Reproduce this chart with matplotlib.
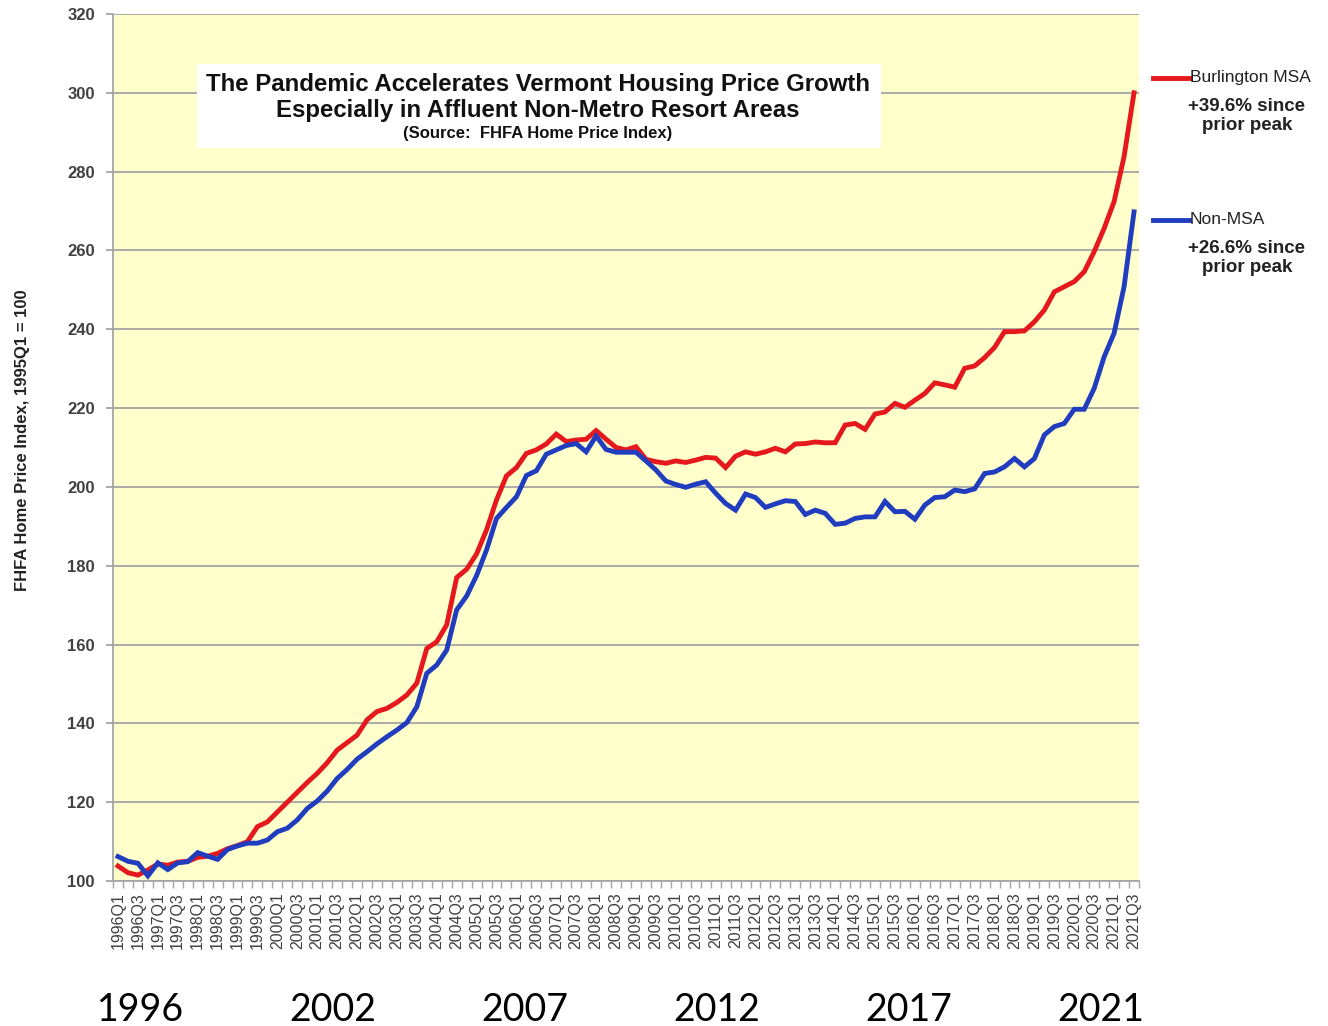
import matplotlib
matplotlib.use("Agg")
from matplotlib import pyplot as plt
from matplotlib.lines import Line2D
from matplotlib.patches import Rectangle

plt.rcParams["font.family"] = ["Liberation Sans", "DejaVu Sans"]

# quarters 1996Q1 .. 2021Q3
quarters = [f"{y}Q{q}" for y in range(1996, 2022) for q in range(1, 5)][:103]

burlington = [
    103.8, 102.1, 101.5, 102.8, 104.3, 104.0, 104.8, 105.0, 106.0, 106.3,
    107.0, 108.2, 109.0, 110.0, 113.8, 115.0, 117.5, 120.0, 122.5, 125.0,
    127.3, 130.0, 133.2, 135.1, 137.0, 140.9, 143.0, 143.8, 145.3, 147.2,
    150.2, 159.0, 160.7, 165.0, 177.0, 179.1, 183.0, 189.1, 196.7, 202.8,
    204.9, 208.5, 209.4, 210.9, 213.4, 211.5, 211.9, 212.1, 214.3, 212.1,
    210.0, 209.4, 210.2, 207.0, 206.4, 206.0, 206.6, 206.2, 206.8, 207.5,
    207.3, 204.9, 207.8, 208.9, 208.3, 208.9, 209.8, 208.9, 210.9, 211.0,
    211.4, 211.2, 211.2, 215.7, 216.1, 214.6, 218.5, 219.0, 221.2, 220.2,
    222.0, 223.7, 226.4, 225.9, 225.3, 230.1, 230.7, 232.8, 235.4, 239.4,
    239.4, 239.6, 241.9, 244.9, 249.5, 250.8, 252.1, 254.6, 259.7, 265.6,
    272.4, 283.8, 300.0,
]
non_msa = [
    106.2, 105.0, 104.5, 101.3, 104.6, 102.9, 104.6, 104.9, 107.2, 106.3,
    105.5, 108.0, 108.9, 109.6, 109.6, 110.4, 112.5, 113.4, 115.5, 118.4,
    120.3, 122.8, 126.0, 128.3, 130.9, 132.8, 134.8, 136.6, 138.3, 140.2,
    144.2, 152.7, 154.8, 158.6, 168.8, 172.3, 177.5, 184.0, 192.0, 194.8,
    197.5, 202.9, 204.1, 208.3, 209.4, 210.5, 211.0, 208.9, 212.9, 209.5,
    208.8, 208.8, 208.8, 206.6, 204.3, 201.5, 200.6, 199.9, 200.7, 201.3,
    198.4, 195.8, 194.1, 198.2, 197.3, 194.8, 195.7, 196.5, 196.3, 193.0,
    194.1, 193.3, 190.5, 190.8, 192.0, 192.4, 192.4, 196.3, 193.7, 193.8,
    191.8, 195.4, 197.3, 197.5, 199.2, 198.8, 199.5, 203.4, 203.8, 205.1,
    207.2, 205.1, 207.2, 213.2, 215.3, 216.1, 219.7, 219.7, 225.0, 233.0,
    239.0, 250.8, 269.8,
]
big_years = ["1996", "2002", "2007", "2012", "2017", "2021"]

RED = "#E5181D"
BLUE = "#1F3DBE"
GRID = "#A5A5A5"

W, H = 1328, 1026
fig = plt.figure(figsize=(W / 100, H / 100), dpi=100)
ax = fig.add_axes([113 / W, 1 - 881 / H, (1139 - 113) / W, (881 - 14) / H])
ax.set_facecolor("#FFFFCC")

x = list(range(len(quarters)))
ax.plot(x, burlington, color=RED, lw=3.5, solid_joinstyle="miter", zorder=3)
ax.plot(x, non_msa, color=BLUE, lw=3.5, solid_joinstyle="miter", zorder=4)

ax.set_xlim(-0.5, len(quarters) - 0.5)
ax.set_ylim(100, 320)
ax.set_yticks(range(100, 321, 20))
ax.yaxis.grid(True, color=GRID, lw=1.3)
ax.set_axisbelow(True)
for s in ["top", "right"]:
    ax.spines[s].set_visible(False)
for s in ["left", "bottom"]:
    ax.spines[s].set_color(GRID)
    ax.spines[s].set_linewidth(1.3)

# labels every second quarter, tick marks at category edges
ax.set_xticks(x[::2])
ax.set_xticklabels(quarters[::2], rotation=90, fontsize=11.5, color="#404040")
ax.set_xticks([i - 0.5 for i in range(len(quarters) + 1)], minor=True)
ax.tick_params(axis="x", which="major", length=0, pad=8)
ax.tick_params(axis="x", which="minor", length=5, color=GRID, width=1)
ax.tick_params(axis="y", length=5, color=GRID, width=1.3, labelsize=12,
               labelcolor="#404040", pad=8)
for lab in ax.get_yticklabels():
    lab.set_fontweight("bold")

fig.text(23 / W, 1 - 440 / H, "FHFA Home Price Index, 1995Q1 = 100", rotation=90,
         ha="center", va="center", fontsize=12, fontweight="bold", color="#222222")

# title box
ax.add_patch(Rectangle((84 / 1026, 1 - 134 / 867), 684 / 1026, 84 / 867,
                       transform=ax.transAxes, facecolor="white", edgecolor="none", zorder=5))
cx = 538 / W
fig.text(cx, 1 - 84 / H, "The Pandemic Accelerates Vermont Housing Price Growth",
         ha="center", va="center", fontsize=17.3, fontweight="bold", color="#111111", zorder=6)
fig.text(cx, 1 - 111 / H, "Especially in Affluent Non-Metro Resort Areas",
         ha="center", va="center", fontsize=17.3, fontweight="bold", color="#111111", zorder=6)
fig.text(cx, 1 - 134 / H, "(Source:  FHFA Home Price Index)",
         ha="center", va="center", fontsize=12, fontweight="bold", color="#111111", zorder=6)

# legend on the right
for name, note, col, yy in [("Burlington MSA", "+39.6% since\nprior peak", RED, 78),
                            ("Non-MSA", "+26.6% since\nprior peak", BLUE, 220)]:
    fig.add_artist(Line2D([1153 / W, 1189 / W], [1 - yy / H, 1 - yy / H],
                          color=col, lw=3.5, transform=fig.transFigure))
    fig.text(1190 / W, 1 - yy / H, name, ha="left", va="center", fontsize=12.5,
             color="#222222")
    fig.text(1247 / W, 1 - (yy + 38) / H, note, ha="center", va="center",
             fontsize=13.5, fontweight="bold", color="#222222", linespacing=1.15)

# big year labels under the chart
for k, yr in enumerate(big_years):
    fig.text((141 + 192 * k) / W, 1 - 1010 / H, yr, ha="center", va="center",
             fontsize=27, family=["Lato", "DejaVu Sans"], color="black")

fig.savefig("out.png", dpi=100, facecolor="white")
